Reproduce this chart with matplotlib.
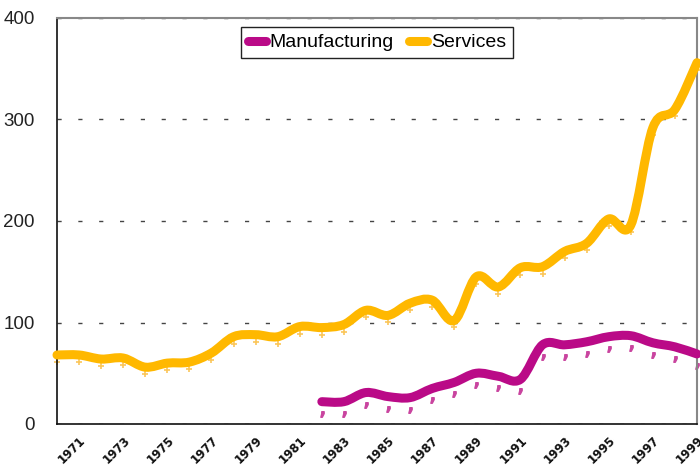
import matplotlib
matplotlib.use("Agg")
import matplotlib.pyplot as plt
import matplotlib.transforms as mtransforms
from matplotlib.path import Path
from matplotlib.patches import PathPatch
from matplotlib.lines import Line2D
import numpy as np

years = list(range(1970, 2000))
services = [68, 68, 64, 65, 56, 60, 61, 70, 86, 88, 86, 96, 95, 98, 112, 107,
            119, 122, 102, 145, 135, 154, 155, 170, 178, 202, 196, 292, 310, 356]
manuf_years = list(range(1982, 2000))
manufacturing = [22, 22, 31, 27, 26, 35, 41, 50, 47, 44, 78, 78, 81, 86, 87, 80, 76, 69]
tick_years = list(range(1971, 2000, 2))
y_ticks = [0, 100, 200, 300, 400]

c_serv = "#FFB800"
c_man = "#BA0A87"

narrow = ["Liberation Sans Narrow", "Liberation Sans", "DejaVu Sans"]

fig = plt.figure(figsize=(7.0, 4.72), dpi=100)
ax = fig.add_axes([57/700, 48/472, 640/700, 406/472])
ax.set_xlim(1970, 1999)
ax.set_ylim(0, 400)


def smooth_path(xs, ys):
    pts = np.column_stack([xs, ys]).astype(float)
    n = len(pts)
    verts = [pts[0]]
    codes = [Path.MOVETO]
    for i in range(n - 1):
        p0 = pts[i - 1] if i > 0 else pts[i]
        p1 = pts[i]
        p2 = pts[i + 1]
        p3 = pts[i + 2] if i + 2 < n else pts[i + 1]
        c1 = p1 + (p2 - p0) / 6.0
        c2 = p2 - (p3 - p1) / 6.0
        verts += [c1, c2, p2]
        codes += [Path.CURVE4] * 3
    return Path(verts, codes)


for xs, ys, col in [(years, services, c_serv), (manuf_years, manufacturing, c_man)]:
    patch = PathPatch(smooth_path(xs, ys), facecolor="none", edgecolor=col,
                      lw=6.5, capstyle="round", joinstyle="round", zorder=3,
                      clip_on=False)
    ax.add_patch(patch)

off_s = mtransforms.offset_copy(ax.transData, fig=fig, y=-7, units="dots")
off_m = mtransforms.offset_copy(ax.transData, fig=fig, y=-12, units="dots")
ax.plot(years, services, linestyle="none", marker="+", markersize=5, mew=1.2,
        color="#FBC65A", transform=off_s, zorder=2, clip_on=False)
ax.plot(manuf_years, manufacturing, linestyle="none", marker="$,$", markersize=4,
        color="#C9449F", transform=off_m, zorder=2, clip_on=False)

# grid
for v in y_ticks:
    ax.axhline(v, color="#444444", lw=1.0, linestyle=(0, (3, 12)), zorder=1)

for side in ["top", "right"]:
    ax.spines[side].set_color("#888888")
    ax.spines[side].set_linewidth(1.5)
for side in ["left", "bottom"]:
    ax.spines[side].set_color("#111111")
    ax.spines[side].set_linewidth(1.2)

ax.set_yticks(y_ticks)
ax.set_yticklabels([str(v) for v in y_ticks], fontsize=13.5, family=narrow, color="#222222")
ax.tick_params(axis="y", length=0, pad=16)

ax.set_xticks(tick_years)
ax.set_xticklabels([str(y) for y in tick_years], fontsize=8.5, fontweight="bold",
                   family="DejaVu Sans", color="#111111")
for lab in ax.get_xticklabels():
    lab.set_rotation(45)
    lab.set_ha("right")
    lab.set_va("top")
    lab.set_rotation_mode("anchor")
ax.tick_params(axis="x", length=0, pad=7)

handles = [Line2D([], [], color=c_man, lw=6.5, solid_capstyle="round"),
           Line2D([], [], color=c_serv, lw=6.5, solid_capstyle="round")]
leg = ax.legend(handles, ["Manufacturing", "Services"], loc="upper center",
                bbox_to_anchor=(0.5, 0.978), ncol=2, frameon=True, fancybox=False,
                edgecolor="#222222", framealpha=1, borderpad=0.35,
                handlelength=0.9, handletextpad=0.2, columnspacing=0.8,
                prop={"family": narrow, "size": 14}, borderaxespad=0)
leg.get_frame().set_linewidth(1.0)

fig.savefig("out.png", dpi=100)
